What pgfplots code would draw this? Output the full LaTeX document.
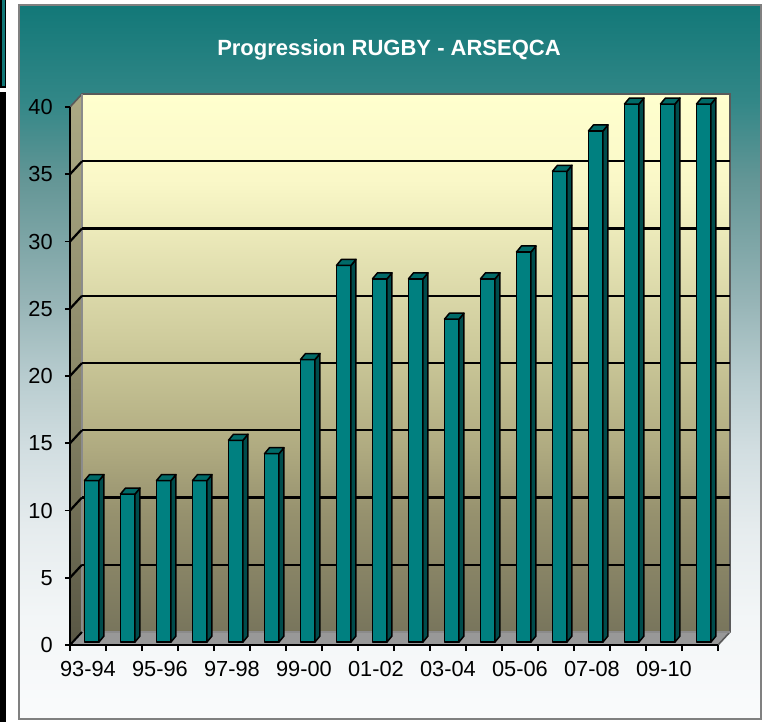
\documentclass[border=0pt]{standalone}
\usepackage{pgfplots}
\pgfplotsset{compat=1.18}
\usepackage{fontspec}
\setmainfont{Liberation Sans}
\definecolor{barfront}{RGB}{0,128,128}
\definecolor{barside}{RGB}{0,76,76}
\definecolor{bartop}{RGB}{0,106,104}
\definecolor{floorc}{RGB}{152,152,152}
\definecolor{edgegray}{RGB}{90,90,90}
% frame background
\definecolor{fa}{RGB}{250,251,252}
\definecolor{fb}{RGB}{243,246,247}
\definecolor{fc}{RGB}{230,236,238}
\definecolor{fd}{RGB}{210,222,225}
\definecolor{fe}{RGB}{185,205,208}
\definecolor{ff}{RGB}{150,180,182}
\definecolor{fg}{RGB}{100,150,150}
\definecolor{fh}{RGB}{50,135,135}
\definecolor{fi}{RGB}{18,120,120}
\pgfdeclareverticalshading{framebg}{100bp}{color(0bp)=(fa); color(25bp)=(fa); color(32bp)=(fb); color(38.2bp)=(fc); color(43.8bp)=(fd); color(48.7bp)=(fe); color(54.3bp)=(ff); color(62.7bp)=(fg); color(68.3bp)=(fh); color(75bp)=(fi); color(100bp)=(fi)}
% back wall
\definecolor{wa}{RGB}{120,117,92}
\definecolor{wb}{RGB}{150,145,110}
\definecolor{wc}{RGB}{175,170,128}
\definecolor{wd}{RGB}{200,197,150}
\definecolor{we}{RGB}{250,248,200}
\definecolor{wf}{RGB}{255,255,206}
\pgfdeclareverticalshading{wallbg}{100bp}{color(0bp)=(wa); color(25bp)=(wa); color(36bp)=(wb); color(42bp)=(wc); color(50bp)=(wd); color(67bp)=(we); color(75bp)=(wf); color(100bp)=(wf)}
% left wall
\definecolor{la}{RGB}{88,86,68}
\definecolor{lc}{RGB}{140,137,105}
\definecolor{le}{RGB}{172,170,132}
\pgfdeclareverticalshading{leftbg}{100bp}{color(0bp)=(la); color(25bp)=(la); color(50bp)=(lc); color(75bp)=(le); color(100bp)=(le)}
\begin{document}
\begin{tikzpicture}
\begin{scope}[x=0.5pt,y=-0.5pt]
  \useasboundingbox (0,0) rectangle (767,725);
  \fill[white] (0,0) rectangle (767,725);
  % left black strip
  \fill[black] (0,0) rectangle (6,88);
  \fill[fi] (1.5,0) rectangle (4.5,86);
  \fill[black] (0,92) rectangle (6,722);
  % chart frame
  \shade[shading=framebg] (19,5) rectangle (761,719);
  \draw[gray, line width=0.6pt] (19,5) rectangle (761,719);
  % walls
  \shade[shading=wallbg] (82,94) rectangle (730,632);
  \shade[shading=leftbg] (70,107) -- (82,94) -- (82,632) -- (70,645) -- cycle;
  \fill[floorc] (70,645) -- (718,645) -- (730,632) -- (82,632) -- cycle;
  \draw[edgegray, line width=0.8pt] (70,107) -- (82,94) -- (730,94) -- (730,632) -- (718,645);
  \draw[edgegray!70, line width=0.6pt] (82,94) -- (82,632) -- (730,632);
  % grid lines on walls
  \foreach \v in {5,10,...,35} {
    \pgfmathsetmacro\yy{645-13.45*\v}
    \pgfmathsetmacro\yb{\yy-13}
    \draw[black, line width=1.1pt] (82,\yb) -- (730,\yb);
    \draw[black, line width=1.1pt] (70,\yy) -- (82,\yb);
  }
  \draw[black, line width=1pt] (70,645) -- (82,632);
  % title
  \node[anchor=base, text=white, font=\bfseries\fontsize{11}{13}\selectfont, inner sep=0pt] at (389,55) {Progression RUGBY - ARSEQCA};
\end{scope}
\begin{axis}[
  at={(35pt,-322.5pt)}, anchor=south west,
  scale only axis, width=324pt, height=269pt,
  xmin=-0.5, xmax=17.5, ymin=0, ymax=40,
  clip=false,
  axis x line*=bottom, axis y line*=left,
  axis line style={black, line width=0.8pt},
  ytick={0,5,...,40},
  xtick={0,2,...,16},
  xticklabels={93-94,95-96,97-98,99-00,01-02,03-04,05-06,07-08,09-10},
  minor xtick={-0.5,0.5,...,17.5},
  major x tick style={draw=none},
  minor x tick style={black, line width=0.8pt},
  major y tick style={black, line width=0.8pt},
  tick align=outside,
  major tick length=2.5pt, minor tick length=3pt,
  /pgf/number format/assume math mode=true,
  tick label style={font=\fontsize{10.9}{13}\selectfont, black},
  yticklabel style={xshift=-2.6pt},
  xticklabel style={yshift=-2.2pt},
]
\addplot[
  only marks, scatter, mark=*, mark size=0pt,
  visualization depends on={value \thisrow{y} \as \yv},
  scatter/@pre marker code/.code={%
    \pgfmathsetmacro\B{1.5-\yv*6.725}%
    \pgfmathsetmacro\Bb{\B+3}%
    \filldraw[fill=barfront, draw=black, line width=0.75pt, line join=round] (-1.75pt,\B pt) rectangle (5.5pt,1.5pt);
    \filldraw[fill=barside, draw=black, line width=0.75pt, line join=round] (5.5pt,\B pt) -- (8pt,\Bb pt) -- (8pt,4.5pt) -- (5.5pt,1.5pt) -- cycle;
    \filldraw[fill=bartop, draw=black, line width=0.75pt, line join=round] (-1.75pt,1.5pt) -- (0.75pt,4.5pt) -- (8pt,4.5pt) -- (5.5pt,1.5pt) -- cycle;
    \scope[opacity=0]%
  },
  scatter/@post marker code/.code={\endscope},
] table {
x y
0 12
1 11
2 12
3 12
4 15
5 14
6 21
7 28
8 27
9 27
10 24
11 27
12 29
13 35
14 38
15 40
16 40
17 40
};
\end{axis}
\end{tikzpicture}
\end{document}
